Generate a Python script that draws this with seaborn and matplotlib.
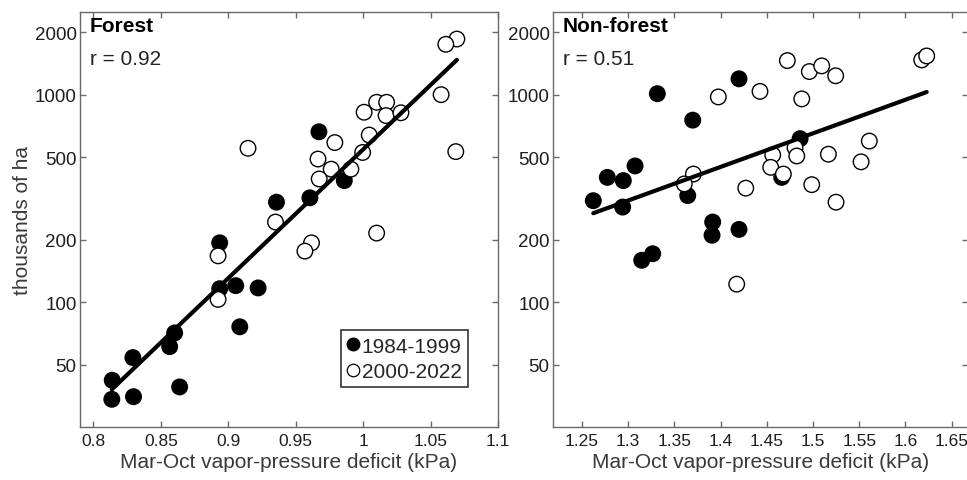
import numpy as np
import pandas as pd
import matplotlib
matplotlib.use('Agg')
import matplotlib.pyplot as plt
import seaborn as sns
from matplotlib.lines import Line2D

# valores (VPD em kPa, área queimada em milhares de ha)
forest_vpd_early = [0.9672, 0.9860, 0.9605, 0.9357, 0.8936, 0.8936, 0.9055, 0.9221,
                    0.9085, 0.8602, 0.8565, 0.8292, 0.8139, 0.8136, 0.8297, 0.8639]
forest_area_early = [662, 385, 318, 303, 193, 116, 120, 117, 76, 71, 61, 54, 42, 34, 35, 39]

forest_vpd_late = [1.0695, 1.0613, 1.0578, 1.0687, 0.9146, 1.0007, 1.0100, 1.0174,
                   1.0170, 1.0280, 1.0045, 0.9790, 0.9996, 0.9665, 0.9763, 0.9909,
                   0.9674, 0.9350, 1.0100, 0.9617, 0.9568, 0.8924, 0.8924]
forest_area_late = [1852, 1747, 999, 531, 551, 822, 918, 918, 792, 817, 638, 587,
                    526, 489, 437, 437, 392, 243, 215, 193, 176, 167, 103]

nonforest_vpd_early = [1.3315, 1.4199, 1.3698, 1.3074, 1.2774, 1.2947, 1.2622, 1.2940,
                       1.3644, 1.4661, 1.4860, 1.3914, 1.3907, 1.4199, 1.3146, 1.3265]
nonforest_area_early = [1010, 1191, 753, 453, 399, 385, 308, 287, 326, 399, 613, 243,
                        210, 224, 159, 171]

nonforest_vpd_late = [1.4722, 1.4960, 1.5094, 1.5245, 1.6176, 1.6230, 1.3975, 1.4426,
                      1.4878, 1.5609, 1.5520, 1.5166, 1.4805, 1.4824, 1.4564, 1.4542,
                      1.4679, 1.3705, 1.3607, 1.4272, 1.4986, 1.5249, 1.4174]
nonforest_area_late = [1458, 1291, 1375, 1232, 1469, 1535, 974, 1036, 953, 597, 474,
                       516, 555, 506, 512, 446, 414, 414, 371, 354, 368, 303, 122]

periods = ['1984-1999', '2000-2022']
panel_names = ['Forest', 'Non-forest']
r_labels = ['r = 0.92', 'r = 0.51']
y_ticks = [50, 100, 200, 500, 1000, 2000]
forest_xticks = [0.8, 0.85, 0.9, 0.95, 1, 1.05, 1.1]
nonforest_xticks = [1.25, 1.3, 1.35, 1.4, 1.45, 1.5, 1.55, 1.6, 1.65]


def monta_df(vpd_a, area_a, vpd_b, area_b):
    a = pd.DataFrame({'vpd': vpd_a, 'area': area_a, 'periodo': periods[0]})
    b = pd.DataFrame({'vpd': vpd_b, 'area': area_b, 'periodo': periods[1]})
    return pd.concat([a, b], ignore_index=True)


forest_df = monta_df(forest_vpd_early, forest_area_early, forest_vpd_late, forest_area_late)
nonforest_df = monta_df(nonforest_vpd_early, nonforest_area_early,
                        nonforest_vpd_late, nonforest_area_late)

sns.set_theme(style='white')
plt.rcParams['font.family'] = ['Liberation Sans', 'DejaVu Sans']

spine_cor = '#6a6a6a'
texto_cor = '#3a3a3a'

fig = plt.figure(figsize=(9.67, 4.81), dpi=100)
ax1 = fig.add_axes([80 / 967, 1 - 428 / 481, 418 / 967, 415 / 481])
ax2 = fig.add_axes([553 / 967, 1 - 428 / 481, 415 / 967, 415 / 481])

configs = [
    (ax1, forest_df, (0.79, 1.1), forest_xticks),
    (ax2, nonforest_df, (1.2186, 1.6677), nonforest_xticks),
]

for i, (ax, df, xlim, xticks) in enumerate(configs):
    sns.scatterplot(data=df, x='vpd', y='area', hue='periodo', hue_order=periods,
                    palette={periods[0]: 'black', periods[1]: 'white'},
                    edgecolor='black', linewidth=1.0, s=125, legend=False, ax=ax, zorder=3)

    # reta de regressão em escala log
    coef = np.polyfit(df['vpd'], np.log10(df['area']), 1)
    xs = np.array([df['vpd'].min(), df['vpd'].max()])
    sns.lineplot(x=xs, y=10 ** np.polyval(coef, xs), color='black', linewidth=3.0,
                 ax=ax, zorder=4)

    ax.set_yscale('log')
    ax.set_ylim(25, 2500)
    ax.set_xlim(*xlim)
    ax.set_yticks(y_ticks)
    ax.set_yticklabels([str(v) for v in y_ticks])
    ax.yaxis.set_minor_locator(matplotlib.ticker.NullLocator())
    ax.set_xticks(xticks)
    ax.set_xticklabels([f'{v:g}' for v in xticks])

    ax.tick_params(axis='both', which='both', direction='in', length=4, width=1,
                   color=spine_cor, labelsize=12.5, labelcolor='#1e1e1e',
                   top=True, right=True, left=True, bottom=True)
    ax.tick_params(axis='x', pad=4)
    ax.tick_params(axis='y', labelsize=13.5, pad=2.5)
    for s in ax.spines.values():
        s.set_color(spine_cor)
        s.set_linewidth(1.0)

    ax.set_xlabel('Mar-Oct vapor-pressure deficit (kPa)', fontsize=15,
                  color=texto_cor, labelpad=3)
    ax.set_ylabel('')

    ax.text(0.024, 0.99, panel_names[i], transform=ax.transAxes, ha='left', va='top',
            fontsize=15, fontweight='bold', color='black')
    ax.text(0.024, 0.91, r_labels[i], transform=ax.transAxes, ha='left', va='top',
            fontsize=15, color='#222222')

ax1.set_ylabel('thousands of ha', fontsize=15, color=texto_cor, labelpad=2)

handles = [
    Line2D([], [], marker='o', linestyle='none', markerfacecolor='black',
           markeredgecolor='black', markersize=9),
    Line2D([], [], marker='o', linestyle='none', markerfacecolor='white',
           markeredgecolor='black', markeredgewidth=0.9, markersize=9),
]
leg = ax1.legend(handles, periods, loc='lower right', bbox_to_anchor=(0.928, 0.096),
                 fontsize=15, frameon=True, fancybox=False, edgecolor='black',
                 handlelength=0.6, handletextpad=0.1, borderpad=0.3,
                 labelspacing=0.3, borderaxespad=0)
leg.get_frame().set_linewidth(1.2)

fig.savefig('out.png', dpi=100)
